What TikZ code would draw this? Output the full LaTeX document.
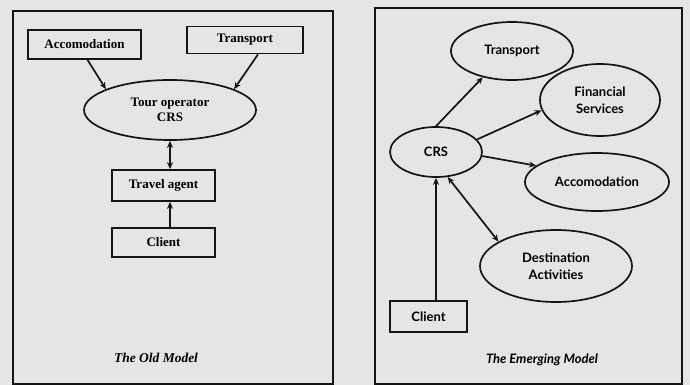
\documentclass[tikz,border=0pt]{standalone}
\usepackage{fontspec}
\setmainfont{Liberation Serif}
\newfontfamily\rsans{Lato}
\usetikzlibrary{shapes.geometric,arrows.meta}
\definecolor{paper}{RGB}{229,229,227}
\definecolor{ink}{RGB}{20,20,20}
\begin{document}
\begin{tikzpicture}[x=1pt,y=-1pt,
  ink line/.style={draw=ink,line width=1.7pt},
  lbox/.style={ink line,rectangle,inner sep=0pt,font=\fontsize{13}{14}\selectfont\bfseries},
  lell/.style={ink line,ellipse,inner sep=0pt,font=\fontsize{13}{15}\selectfont\bfseries,align=center},
  rbox/.style={ink line,rectangle,inner sep=0pt,font=\rsans\fontsize{13}{15}\selectfont\bfseries},
  rell/.style={ink line,ellipse,inner sep=0pt,font=\rsans\fontsize{13}{16.5}\selectfont\bfseries,align=center},
  conn/.style={draw=ink,line width=1.7pt,-{Stealth[length=7pt,width=6pt]}},
  dconn/.style={draw=ink,line width=1.7pt,{Stealth[length=7pt,width=6pt]}-{Stealth[length=7pt,width=6pt]}},
  frame/.style={draw=ink,line width=1.9pt}]
\fill[paper] (0,0) rectangle (690,385);
\useasboundingbox (0,0) rectangle (690,385);
% ---------- left: the old model ----------
\draw[frame] (13,11) rectangle (333,384);
\node[lbox,minimum width=113pt,minimum height=29pt] (lacc) at (84.5,44.5) {Accomodation};
\node[lbox,minimum width=116pt,minimum height=27pt] (ltr) at (245,40) {Transport};
\node[lell,minimum width=172pt,minimum height=60pt] (tour) at (170,110) {Tour operator\\CRS};
\node[lbox,minimum width=103pt,minimum height=31pt] (agent) at (163.5,185.5) {Travel agent};
\node[lbox,minimum width=103pt,minimum height=29pt] (lclient) at (163.5,242.5) {Client};
\node[font=\fontsize{13.5}{15}\selectfont\bfseries\itshape] (oldt) at (156,358) {The Old Model};
\draw[conn] ([xshift=3pt]lacc.south) -- (tour.162);
\draw[conn] ([xshift=13pt]ltr.south) -- (tour.18);
\draw[dconn] (tour.south) -- (tour.south |- agent.north);
\draw[conn] (tour.south |- lclient.north) -- (tour.south |- agent.south);
% ---------- right: the emerging model ----------
\draw[frame] (375,8) rectangle (682,384);
\node[rell,minimum width=122pt,minimum height=58pt] (rtr) at (512,51) {Transport};
\node[rell,minimum width=120pt,minimum height=72pt] (fin) at (600,100) {Financial\\Services};
\node[rell,minimum width=92pt,minimum height=50pt] (crs) at (436,152) {CRS};
\node[rell,minimum width=144pt,minimum height=58pt] (racc) at (597,182) {Accomodation};
\node[rell,minimum width=152pt,minimum height=72pt] (dest) at (556,266) {Destination\\Activities};
\node[rbox,minimum width=77pt,minimum height=31pt] (rclient) at (428.5,316.5) {Client};
\node[font=\rsans\fontsize{13}{15}\selectfont\bfseries\itshape] (newt) at (542,360) {The Emerging Model};
\draw[conn] (crs.north) -- (rtr.222);
\draw[conn] (crs.17) -- (fin.190);
\draw[conn] (crs.-5) -- (racc.165);
\draw[dconn] (crs.-65) -- (dest.157);
\draw[conn] (rclient.north -| crs.south) -- (crs.south);
\end{tikzpicture}
\end{document}
